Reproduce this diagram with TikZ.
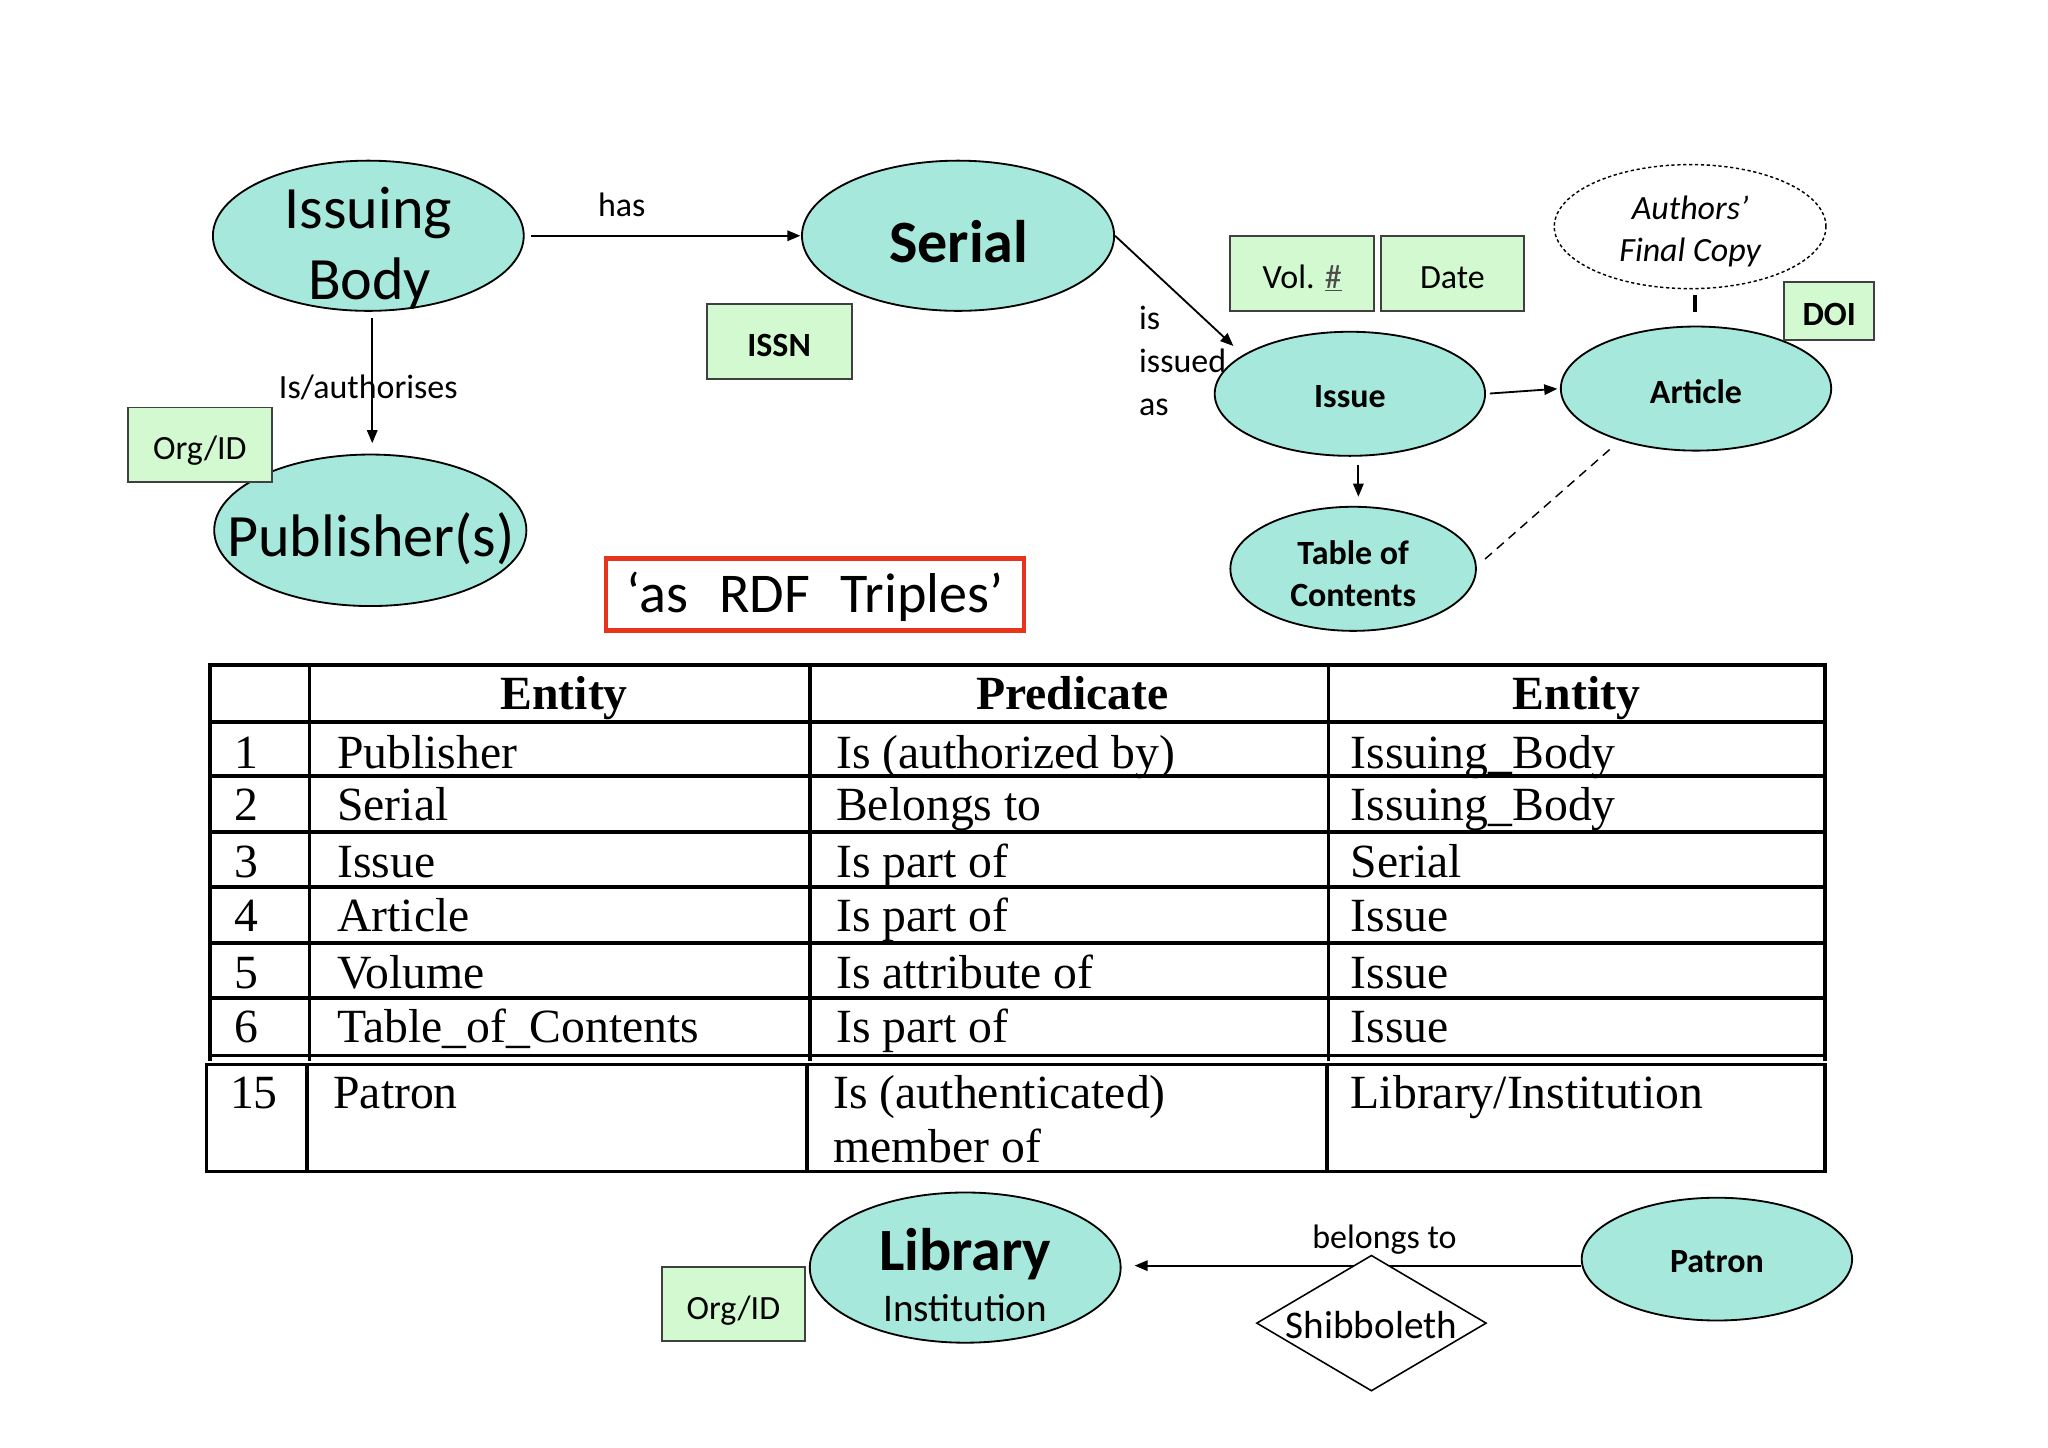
\documentclass[tikz,border=0pt]{standalone}
\usepackage{fontspec}
\setmainfont{Liberation Serif}
\newfontfamily\carl{Carlito}
\usetikzlibrary{shapes.geometric,arrows.meta,calc}
\definecolor{tealfill}{HTML}{A6E9DC}
\definecolor{greenfill}{HTML}{D3F9D0}
\definecolor{redline}{HTML}{E8341C}
\begin{document}
\begin{tikzpicture}[x=1pt,y=-1pt,
  ell/.style={ellipse,draw=black,line width=1.4pt,fill=tealfill,inner sep=0pt},
  attr/.style={rectangle,draw=black!75,line width=1.5pt,fill=greenfill,inner sep=0pt},
  txt/.style={anchor=base,inner sep=0pt},
  txtw/.style={anchor=base west,inner sep=0pt},
  bigf/.style={font=\carl\fontsize{46}{50}\selectfont},
  bigb/.style={font=\carl\bfseries\fontsize{46}{50}\selectfont},
  midf/.style={font=\carl\fontsize{26}{30}\selectfont},
  midb/.style={font=\carl\bfseries\fontsize{26}{30}\selectfont},
  midi/.style={font=\carl\itshape\fontsize{26}{30}\selectfont},
  arr/.style={-{Triangle[length=10pt,width=8pt]},line width=1.4pt},
  tcell/.style={anchor=base west,inner sep=0pt,font=\fontsize{36.5}{40}\selectfont},
  thead/.style={anchor=base,inner sep=0pt,font=\bfseries\fontsize{36.5}{40}\selectfont},
  tline/.style={line width=2.8pt,line cap=rect}
]
\fill[white] (0,0) rectangle (1568,1108);
\useasboundingbox (0,0) rectangle (1568,1108);

% ---------- top left ----------
\node[ell,minimum width=238pt,minimum height=115pt] (ib) at (282,180.5) {};
\node[txt,bigf] (ibA) at (282,175) {Issuing};
\node[txt,bigf] (ibB) at (283,229) {Body};

\node[ell,minimum width=239pt,minimum height=115pt] (ser) at (733.5,180.5) {};
\node[txt,bigb] (serT) at (734,201) {Serial};

\node[ell,minimum width=239pt,minimum height=116pt] (pub) at (283.5,406) {};
\node[txt,bigf] (pubT) at (284,426) {Publisher(s)};

\node[attr,minimum width=111pt,minimum height=57pt] (issn) at (596.5,261.5) {};
\node[txt,midb] (issnT) at (596.5,273) {ISSN};

\node[attr,minimum width=110pt,minimum height=57pt] (org1) at (153,340.5) {};
\node[txt,midf] (org1T) at (153,352) {Org/ID};

\draw[arr,shorten <=5pt,shorten >=0.5pt] (ib.east) -- (ser.west);
\node[txt,midf] (hasT) at (476,166) {has};

\draw[arr,shorten <=5pt,shorten >=8pt] ($(ib.south)+(3,0)$) -- ($(pub.north)+(1.5,0)$);
\node[txt,midf] (isauT) at (282,305) {Is/authorises};

% red box
\node[draw=redline,line width=3.6pt,minimum width=320pt,minimum height=55pt,inner sep=0pt] (rdf) at (624,455) {};
\node[txt,font=\carl\fontsize{43}{48}\selectfont] (rdfT) at (624,469) {‘as\hspace{0.55em}RDF\hspace{0.55em}Triples’};

% ---------- top right ----------
\node[ell,minimum width=207pt,minimum height=95pt] (iss) at (1033.5,301.5) {};
\node[txt,midb] (issT) at (1033.5,312) {Issue};

\node[attr,minimum width=110pt,minimum height=57pt] (vol) at (997,209.5) {};
\node[txt,midf] (volT) at (997,221) {Vol. {\color{black!70}\underline{\#}}};
\node[attr,minimum width=110pt,minimum height=57pt] (date) at (1112,209.5) {};
\node[txt,midf] (dateT) at (1112,221) {Date};

\node[ell,minimum width=207pt,minimum height=95pt] (art) at (1298.5,297.5) {};
\node[txt,midb] (artT) at (1298.5,309) {Article};

\node[ellipse,draw=black,line width=1.1pt,dash pattern=on 2.5pt off 2pt,minimum width=208pt,minimum height=95pt,inner sep=0pt] (afc) at (1294,173.5) {};
\node[txt,midi] (afcA) at (1294,168) {Authors’};
\node[txt,midi] (afcB) at (1294,200) {Final Copy};

\coordinate (barT) at (1298,226);
\coordinate (barB) at (1298,239);
\draw[line width=3pt] (barT) -- (barB);

\node[attr,minimum width=69pt,minimum height=44pt] (doi) at (1400.5,238) {};
\node[txt,midb] (doiT) at (1400.5,249) {DOI};

\node[ell,minimum width=188pt,minimum height=95pt] (toc) at (1036,435.5) {};
\node[txt,midb] (tocA) at (1036,432) {Table of};
\node[txt,midb] (tocB) at (1036,464) {Contents};

\draw[arr,shorten >=10pt] (ser.east) -- (iss.160);
\node[txtw,midf] (isA) at (872,252) {is};
\node[txtw,midf] (isB) at (872,285) {issued};
\node[txtw,midf] (isC) at (872,318) {as};

\draw[arr,shorten <=3pt,shorten >=2pt] (iss.east) -- (art.west);
\draw[arr] ($(iss.south)+(6.5,6)$) -- ($(toc.north)+(4,-7)$);

\coordinate (dA) at (1137,428);
\coordinate (dB) at (1236,341);
\draw[line width=1.1pt,dash pattern=on 7pt off 5pt] (dA) -- (dB);

% ---------- table ----------
\foreach \yy in {509,553,594,637,679,722,764,808}
  \draw[tline] (161,\yy) -- (1397,\yy);
\foreach \xx in {161,237,620,1017,1397}
  \draw[tline] (\xx,509) -- (\xx,811);
\draw[tline] (158,815) rectangle (1397,897);
\foreach \xx in {235,618,1016}
  \draw[tline] (\xx,815) -- (\xx,897);

\node[thead] (h1) at (432,543) {Entity};
\node[thead] (h2) at (821,543) {Predicate};
\node[thead] (h3) at (1207,543) {Entity};

\node[tcell] (r1a) at (179,588) {1};
\node[tcell] (r1b) at (258,588) {Publisher};
\node[tcell] (r1c) at (640,588) {Is (authorized by)};
\node[tcell] (r1d) at (1034,588) {Issuing\_Body};

\node[tcell] (r2a) at (179,628) {2};
\node[tcell] (r2b) at (258,628) {Serial};
\node[tcell] (r2c) at (640,628) {Belongs to};
\node[tcell] (r2d) at (1034,628) {Issuing\_Body};

\node[tcell] (r3a) at (179,672) {3};
\node[tcell] (r3b) at (258,672) {Issue};
\node[tcell] (r3c) at (640,672) {Is part of};
\node[tcell] (r3d) at (1034,672) {Serial};

\node[tcell] (r4a) at (179,713) {4};
\node[tcell] (r4b) at (258,713) {Article};
\node[tcell] (r4c) at (640,713) {Is part of};
\node[tcell] (r4d) at (1034,713) {Issue};

\node[tcell] (r5a) at (179,757) {5};
\node[tcell] (r5b) at (258,757) {Volume};
\node[tcell] (r5c) at (640,757) {Is attribute of};
\node[tcell] (r5d) at (1034,757) {Issue};

\node[tcell] (r6a) at (179,798) {6};
\node[tcell] (r6b) at (258,798) {Table\_of\_Contents};
\node[tcell] (r6c) at (640,798) {Is part of};
\node[tcell] (r6d) at (1034,798) {Issue};

\node[tcell] (r7a) at (176,849) {15};
\node[tcell] (r7b) at (255,849) {Patron};
\node[tcell] (r7c) at (638,849) {Is (authenticated)};
\node[tcell] (r7e) at (638,890) {member of};
\node[tcell] (r7d) at (1034,849) {Library/Institution};

% ---------- bottom ----------
\node[ell,minimum width=238pt,minimum height=115pt] (lib) at (739,970.5) {};
\node[txt,bigb] (libA) at (739,973) {Library};
\node[txt,font=\carl\fontsize{30}{34}\selectfont] (libB) at (739,1012) {Institution};

\node[attr,minimum width=109pt,minimum height=57pt] (org2) at (561.5,998.5) {};
\node[txt,midf] (org2T) at (561.5,1010) {Org/ID};

\node[ell,minimum width=207pt,minimum height=94pt] (pat) at (1314.5,964) {};
\node[txt,midb] (patT) at (1314.5,974) {Patron};

\draw[arr] ($(pat.west)+(0,5)$) -- ($(lib.east)+(10,-1.5)$);
\node[txt,midf] (belT) at (1060,956) {belongs to};

\node[diamond,draw=black,line width=1.2pt,fill=white,minimum width=176pt,minimum height=104pt,inner sep=0pt] (shib) at (1050,1013) {};
\node[txt,font=\carl\fontsize{30}{34}\selectfont] (shibT) at (1050,1025) {Shibboleth};
\end{tikzpicture}
\end{document}
